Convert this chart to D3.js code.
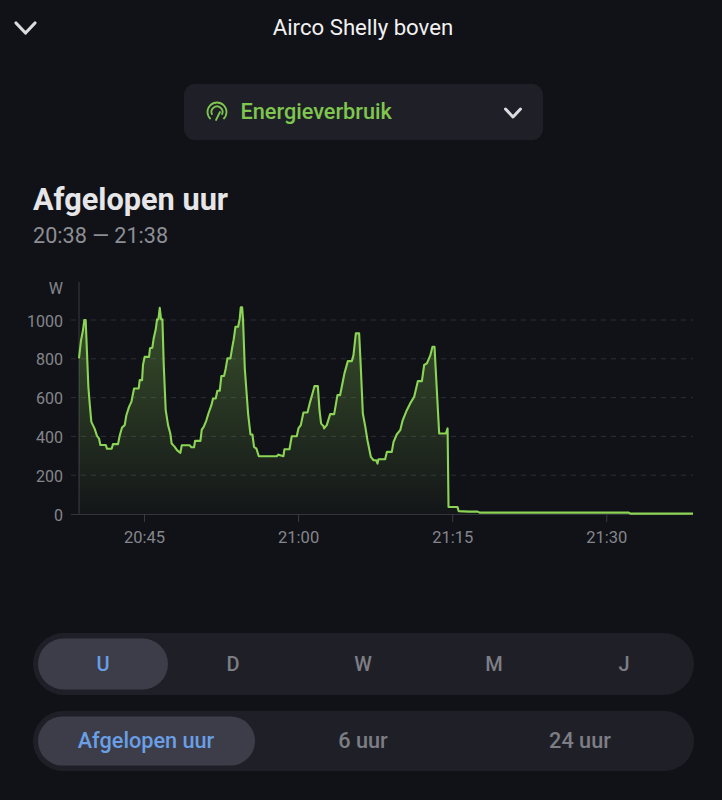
<!DOCTYPE html>
<html>
<head>
<meta charset="utf-8">
<script src="https://cdn.jsdelivr.net/npm/d3@7"></script>
<style>
  html, body { margin: 0; padding: 0; background: #111217; }
  svg { display: block; font-family: Roboto, sans-serif; }
</style>
</head>
<body>
<div id="chart"></div>
<script>
// minutes after 20:00
var minutes = [38.67,38.86,39.06,39.19,39.32,39.58,39.71,39.87,40.19,40.42,40.62,40.75,41.27,41.40,41.85,41.98,42.47,42.63,42.86,43.12,43.28,43.54,43.77,44.03,44.48,44.58,44.81,44.90,45.06,45.49,45.58,45.81,45.94,46.14,46.27,46.40,46.53,46.66,46.79,46.92,47.11,47.34,47.56,47.69,47.99,48.21,48.54,48.67,49.45,49.61,49.87,49.97,50.49,50.62,50.81,51.07,51.27,51.56,51.72,51.98,52.14,52.37,52.53,52.79,52.95,53.12,53.41,53.57,53.73,53.90,54.16,54.32,54.42,54.55,54.64,54.81,55.13,55.36,55.55,55.71,55.94,56.17,57.27,57.92,58.08,58.57,58.67,59.16,59.38,59.87,60.03,60.26,60.52,60.91,61.17,61.40,61.59,61.92,62.08,62.24,62.47,62.53,62.79,63.12,63.51,63.83,64.09,64.25,64.51,64.84,65.23,65.39,65.62,65.94,66.10,66.30,66.53,66.75,67.08,67.34,67.60,67.73,67.82,68.47,68.64,69.12,69.29,69.61,69.94,70.16,70.58,70.91,71.30,71.66,72.05,72.27,72.53,72.86,73.08,73.28,73.38,73.73,74.38,74.55,74.64,75.52,75.62,76.59,77.47,77.66,92.18,92.34,98.44];
var watts = [802,893,948,1000,1000,656,570,475,440,403,389,356,356,336,336,360,360,403,446,458,509,552,578,647,647,690,690,768,810,810,854,857,905,952,1003,1003,1063,1003,1003,768,535,458,415,363,346,329,315,354,354,344,344,377,377,435,449,483,518,561,595,595,635,635,711,711,749,802,802,854,900,965,965,1008,1065,1065,1000,750,518,410,410,346,337,298,298,298,306,298,334,334,401,401,441,458,523,523,578,621,659,659,535,466,453,441,458,515,515,613,613,656,725,788,788,819,931,931,759,518,453,380,294,277,277,260,282,282,320,320,372,411,432,480,535,570,604,685,685,768,776,816,862,862,759,415,415,441,36,36,15,12,12,7,7,2,2];
var xTicks = [45, 60, 75, 90];
var xTickLabels = ["20:45", "21:00", "21:15", "21:30"];
var yTicks = [0, 200, 400, 600, 800, 1000];
var rangeOne = ["U", "D", "W", "M", "J"];
var rangeTwo = ["Afgelopen uur", "6 uur", "24 uur"];

var points = minutes.map(function(m, i) { return { m: m, w: watts[i] }; });

var svg = d3.select("#chart").append("svg")
  .attr("width", 722)
  .attr("height", 800);

var xScale = d3.scaleLinear().domain([38.67, 98.44]).range([79, 693]);
var yScale = d3.scaleLinear().domain([0, 1000]).range([514, 320]);

var grad = svg.append("defs").append("linearGradient")
  .attr("id", "fade")
  .attr("x1", 0).attr("y1", 0).attr("x2", 0).attr("y2", 1);
grad.append("stop").attr("offset", "0%").attr("stop-color", "#8cd455").attr("stop-opacity", 0.32);
grad.append("stop").attr("offset", "100%").attr("stop-color", "#8cd455").attr("stop-opacity", 0.02);

// header
function chevron(cx, cy, w, h, sw) {
  svg.append("path")
    .attr("d", d3.line()([[cx - w, cy - h], [cx, cy + h], [cx + w, cy - h]]))
    .attr("fill", "none")
    .attr("stroke", "#dcdcde")
    .attr("stroke-width", sw)
    .attr("stroke-linecap", "round")
    .attr("stroke-linejoin", "round");
}
chevron(25.5, 28, 9.5, 5, 3.2);
svg.append("text").attr("x", 363).attr("y", 35).attr("text-anchor", "middle")
  .attr("fill", "#f1f1f2").attr("font-size", 22.2).text("Airco Shelly boven");

svg.append("rect").attr("x", 184).attr("y", 84).attr("width", 359).attr("height", 56)
  .attr("rx", 11).attr("fill", "#1f2027");
chevron(513, 113, 7.5, 4, 3);
svg.append("text").attr("x", 240.5).attr("y", 119).attr("fill", "#7fc64f")
  .attr("font-size", 21.7).attr("font-weight", 500).text("Energieverbruik");

// gauge icon
var arc = d3.arc();
var icon = svg.append("g").attr("transform", "translate(217,112)")
  .attr("fill", "none").attr("stroke", "#7fc64f").attr("stroke-width", 1.8).attr("stroke-linecap", "round");
icon.append("path").attr("d", arc({ innerRadius: 9.5, outerRadius: 9.5, startAngle: -2.4, endAngle: 2.4 }));
icon.append("path").attr("d", arc({ innerRadius: 5.5, outerRadius: 5.5, startAngle: -2.1, endAngle: 2.1 }));
icon.append("path").attr("d", "M-1,8L3,0");

svg.append("text").attr("x", 33).attr("y", 210).attr("fill", "#e6e6e8")
  .attr("font-size", 30.7).attr("font-weight", 700).text("Afgelopen uur");
svg.append("text").attr("x", 33).attr("y", 243).attr("fill", "#8d8e93")
  .attr("font-size", 21.6).text("20:38 \u2014 21:38");

// grid
svg.append("g").selectAll("line")
  .data(yTicks.slice(1))
  .join("line")
  .attr("x1", 71).attr("x2", 693)
  .attr("y1", function(d) { return yScale(d); })
  .attr("y2", function(d) { return yScale(d); })
  .attr("stroke", "#2e2f36")
  .attr("stroke-dasharray", "5,5");

// axes
var yAxis = svg.append("g").attr("transform", "translate(71,1)")
  .call(d3.axisLeft(yScale).tickValues(yTicks).tickFormat(d3.format("d")).tickSize(0).tickPadding(8));
yAxis.select(".domain").remove();
yAxis.selectAll("text").attr("fill", "#85868c").attr("font-size", 16).attr("font-family", "Roboto, sans-serif");

svg.append("text").attr("x", 63).attr("y", 294).attr("text-anchor", "end")
  .attr("fill", "#85868c").attr("font-size", 16).text("W");

svg.append("line").attr("x1", 79).attr("x2", 79).attr("y1", 282).attr("y2", 514)
  .attr("stroke", "#33343c").attr("stroke-width", 1.2);

var xAxis = svg.append("g").attr("transform", "translate(0,514)")
  .call(d3.axisBottom(xScale).tickValues(xTicks)
    .tickFormat(function(d, i) { return xTickLabels[i]; })
    .tickSize(8).tickPadding(9).tickSizeOuter(0));
xAxis.select(".domain").attr("d", "M71,0.5H693").attr("stroke", "#33343c").attr("stroke-width", 1.2);
xAxis.selectAll(".tick line").attr("stroke", "#3a3b43");
xAxis.selectAll("text").attr("fill", "#85868c").attr("font-size", 16.5).attr("font-family", "Roboto, sans-serif");

// area and line
var area = d3.area()
  .x(function(d) { return xScale(d.m); })
  .y0(yScale(0))
  .y1(function(d) { return yScale(d.w); });
var line = d3.line()
  .x(function(d) { return xScale(d.m); })
  .y(function(d) { return yScale(d.w); });

svg.append("path").datum(points).attr("d", area).attr("fill", "url(#fade)");
svg.append("path").datum(points).attr("d", line)
  .attr("fill", "none").attr("stroke", "#8cd455").attr("stroke-width", 2.1).attr("stroke-linejoin", "round");

// range selectors
function selector(labels, top, h, inner, centers, baseline, size) {
  svg.append("rect").attr("x", 33).attr("y", top).attr("width", 661).attr("height", h)
    .attr("rx", h / 2).attr("fill", "#1f2027");
  svg.append("rect").attr("x", inner[0]).attr("y", top + 5.5).attr("width", inner[1] - inner[0]).attr("height", h - 11)
    .attr("rx", (h - 11) / 2).attr("fill", "#3c3d48");
  svg.append("g").selectAll("text")
    .data(labels)
    .join("text")
    .attr("x", function(d, i) { return centers[i]; })
    .attr("y", baseline)
    .attr("text-anchor", "middle")
    .attr("font-size", size)
    .attr("font-weight", 500)
    .attr("fill", function(d, i) { return i === 0 ? "#6a9fe6" : "#7d7e85"; })
    .text(function(d) { return d; });
}
selector(rangeOne, 633, 62, [38, 168], [103, 233, 363, 494, 624], 671, 20);
selector(rangeTwo, 711, 60, [38, 255], [146, 363, 580], 748, 21.7);
</script>
</body>
</html>
